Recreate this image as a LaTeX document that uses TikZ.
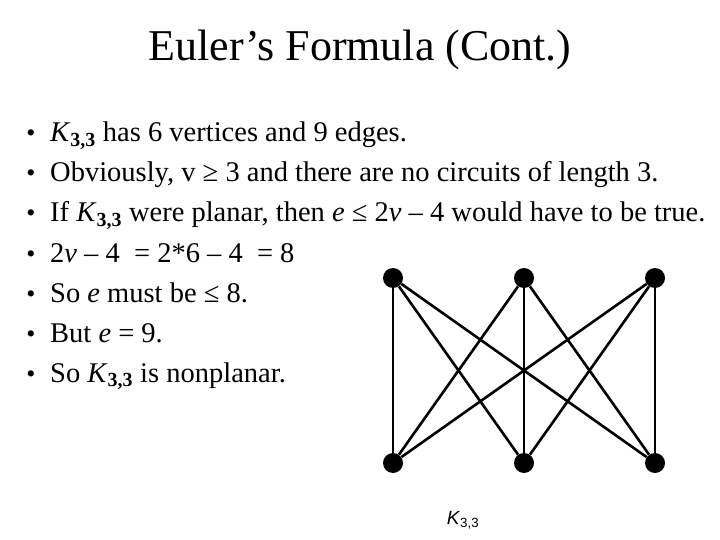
\documentclass[tikz,border=0pt]{standalone}
\usepackage{fontspec}
\setmainfont{Liberation Serif}
\setsansfont{Liberation Sans}
\begin{document}
\begin{tikzpicture}[x=1pt,y=-1pt,
  line/.style={anchor=base west,font=\fontsize{28.5}{32}\selectfont,inner sep=0},
  bul/.style={anchor=base,font=\fontsize{26}{32}\selectfont,inner sep=0},
  vtx/.style={circle,fill=black,minimum size=20pt,inner sep=0},
  edge/.style={line width=2.6pt}]
\useasboundingbox (0,0) rectangle (720,540);
\newcommand{\Kt}{\textit{K}\textsubscript{\textbf{3,3}}}
\node[font=\fontsize{44}{48}\selectfont] (title) at (360,50) {Euler’s Formula (Cont.)};
\foreach \y/\t [count=\i] in {
 142/{\Kt{} has 6 vertices and 9 edges.},
 182/{Obviously, v ≥ 3 and there are no circuits of length 3.},
 222/{If \Kt{} were planar, then \textit{e} ≤ 2\textit{v} – 4 would have to be true.},
 262/{2\textit{v} – 4\ \ = 2*6 – 4\ \ = 8},
 302/{So \textit{e} must be ≤ 8.},
 342/{But \textit{e} = 9.},
 382/{So \Kt{} is nonplanar.}}{
 \node[bul] (b\i) at (31,\y) {•};
 \node[line] (l\i) at (50,\y) {\t};
}
\node[vtx] (a1) at (393,278) {};
\node[vtx] (a2) at (524,278) {};
\node[vtx] (a3) at (655,278) {};
\node[vtx] (c1) at (393,463) {};
\node[vtx] (c2) at (524,463) {};
\node[vtx] (c3) at (655,463) {};
\foreach \a in {a1,a2,a3}{\foreach \c in {c1,c2,c3}{\draw[edge] (\a) -- (\c);}}
\node[font=\sffamily\fontsize{19}{22}\selectfont] (lab) at (463,520) {\textit{K}\textsubscript{3,3}};
\end{tikzpicture}
\end{document}
